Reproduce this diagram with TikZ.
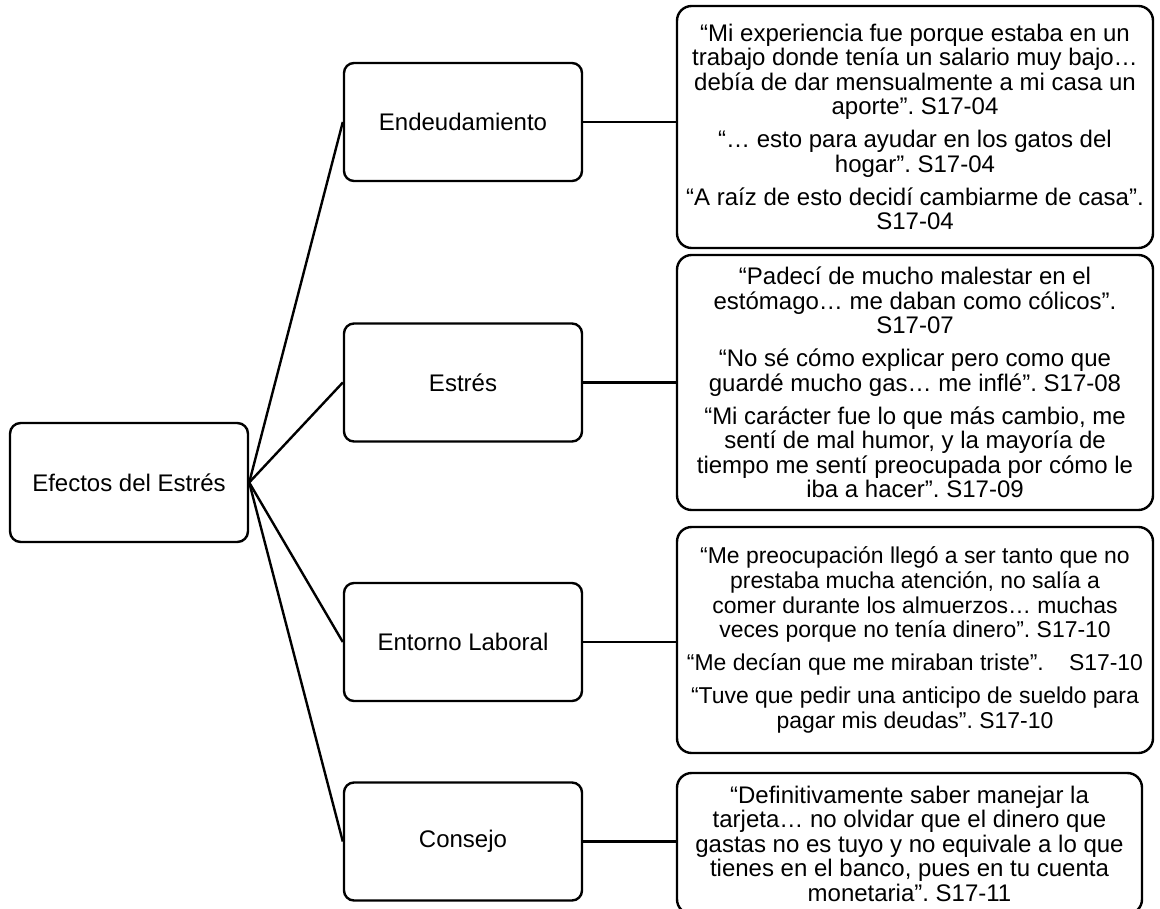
\documentclass[tikz,border=0pt]{standalone}
\usepackage{fontspec}
\setmainfont{Liberation Sans}
\frenchspacing
\begin{document}
\begin{tikzpicture}[x=0.75pt,y=-0.75pt,
  line width=1.8pt,
  basebox/.style={draw, align=center, inner sep=0pt,
    font=\fontsize{18pt}{18.4pt}\selectfont},
  rootbox/.style={basebox, rounded corners=8pt,
    minimum width=178.5pt, minimum height=89.25pt},
  topicbox/.style={basebox, rounded corners=7.5pt,
    minimum width=178.5pt, minimum height=88.5pt},
  quotebox/.style={basebox, rounded corners=11pt},
  link/.style={draw, line width=1.8pt}]
\useasboundingbox (0,0) rectangle (1160,909);

% central theme
\node[rootbox] (root) at (129,482.5) {Efectos del Estrés};

% themes
\node[topicbox] (deuda)   at (463,122)   {Endeudamiento};
\node[topicbox] (estres)  at (463,382.5) {Estrés};
\node[topicbox] (laboral) at (463,642)   {Entorno Laboral};
\node[topicbox] (consejo) at (463,841.5) {Consejo};

% quotations
\node[quotebox, minimum width=357pt, minimum height=181.5pt] (q1) at (915,127)
 {“Mi experiencia fue porque estaba en un\\
  trabajo donde tenía un salario muy bajo…\\
  debía de dar mensualmente a mi casa un\\
  aporte”. S17-04\\[6.4pt]
  “… esto para ayudar en los gatos del\\
  hogar”. S17-04\\[6.4pt]
  “A raíz de esto decidí cambiarme de casa”.\\
  S17-04};

\node[quotebox, minimum width=357pt, minimum height=191.25pt] (q2) at (915,382.5)
 {“Padecí de mucho malestar en el\\
  estómago… me daban como cólicos”.\\
  S17-07\\[6.4pt]
  “No sé cómo explicar pero como que\\
  guardé mucho gas… me inflé”. S17-08\\[6.4pt]
  “Mi carácter fue lo que más cambio, me\\
  sentí de mal humor, y la mayoría de\\
  tiempo me sentí preocupada por cómo le\\
  iba a hacer”. S17-09};

\node[quotebox, minimum width=357pt, minimum height=169.5pt,
      font=\fontsize{17.2pt}{18.4pt}\selectfont] (q3) at (915,640)
 {“Me preocupación llegó a ser tanto que no\\
  prestaba mucha atención, no salía a\\
  comer durante los almuerzos… muchas\\
  veces porque no tenía dinero”. S17-10\\[6.4pt]
  “Me decían que me miraban triste”.\hspace{1.1em}S17-10\\[6.4pt]
  “Tuve que pedir una anticipo de sueldo para\\
  pagar mis deudas”. S17-10};

\node[quotebox, minimum width=348.75pt, minimum height=105.75pt] (q4) at (909.5,843.5)
 {“Definitivamente saber manejar la\\
  tarjeta… no olvidar que el dinero que\\
  gastas no es tuyo y no equivale a lo que\\
  tienes en el banco, pues en tu cuenta\\
  monetaria”. S17-11};

% fan from the central theme
\foreach \t in {deuda,estres,laboral,consejo}
  \draw[link] (root.east) -- (\t.west);

% theme to quotations
\draw[link] (deuda.east)   -- (deuda.east -| q1.west);
\draw[link] (estres.east)  -- (estres.east -| q2.west);
\draw[link] (laboral.east) -- (laboral.east -| q3.west);
\draw[link] (consejo.east) -- (consejo.east -| q4.west);
\end{tikzpicture}
\end{document}
